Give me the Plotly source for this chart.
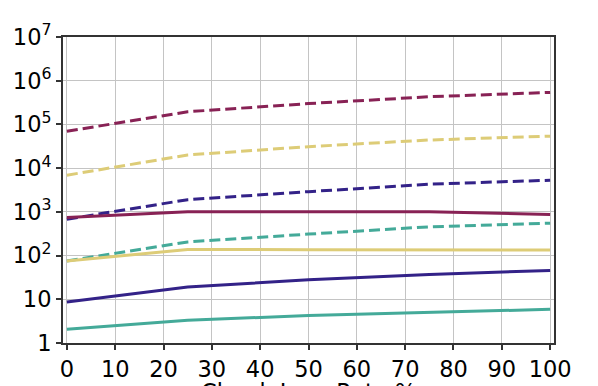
import plotly.graph_objects as go

loss_rate = [0, 25, 50, 75, 100]

# dashed series
crimson_dashed = [70000, 195000, 300000, 430000, 540000]
sand_dashed = [6900, 20000, 31000, 44000, 54000]
indigo_dashed = [680, 1900, 2900, 4300, 5300]
teal_dashed = [75, 205, 310, 455, 550]

# solid series
crimson_solid = [745, 1000, 1000, 1000, 870]
sand_solid = [75, 138, 136, 135, 134]
indigo_solid = [8.7, 19, 28, 37, 45.6]
teal_solid = [2.06, 3.3, 4.25, 5.1, 5.9]

y_tickvals = [1, 10, 100, 1000, 10000, 100000, 1000000, 10000000]
y_ticktext = ["1", "10", "10<sup>2</sup>", "10<sup>3</sup>", "10<sup>4</sup>",
              "10<sup>5</sup>", "10<sup>6</sup>", "10<sup>7</sup>"]
x_tickvals = [0, 10, 20, 30, 40, 50, 60, 70, 80, 90, 100]

CRIMSON = "#882255"
SAND = "#DDCC77"
INDIGO = "#332288"
TEAL = "#44AA99"
DASH = "11px,5px"
LW = 3

series = [
    (crimson_dashed, CRIMSON, DASH),
    (sand_dashed, SAND, DASH),
    (indigo_dashed, INDIGO, DASH),
    (teal_dashed, TEAL, DASH),
    (crimson_solid, CRIMSON, "solid"),
    (sand_solid, SAND, "solid"),
    (indigo_solid, INDIGO, "solid"),
    (teal_solid, TEAL, "solid"),
]

fig = go.Figure()
for vals, color, dash in series:
    fig.add_trace(go.Scatter(x=loss_rate, y=vals, mode="lines",
                             line=dict(color=color, width=LW, dash=dash),
                             showlegend=False))

font = dict(family="DejaVu Sans", size=22.5, color="black")

# page body has an 8px default margin, so the figure is offset by 8px
fig.update_layout(
    width=590, height=378,
    margin=dict(l=55, r=44, t=29, b=43, autoexpand=False),
    paper_bgcolor="white", plot_bgcolor="white",
    font=font,
    showlegend=False,
)
axis_common = dict(
    showgrid=True, gridcolor="#c4c4c4", gridwidth=1.3,
    showline=True, linecolor="#333333", linewidth=2, mirror=True,
    ticks="outside", ticklen=5, tickwidth=1.5, tickcolor="#333333",
    tickfont=font, zeroline=False, automargin=False,
)
fig.update_xaxes(range=[-0.8, 100.8], tickvals=x_tickvals, **axis_common)
fig.update_yaxes(type="log", range=[0, 7], tickvals=y_tickvals,
                 ticktext=y_ticktext, **axis_common)
fig.add_annotation(
    text="Chunk Loss Rate %", xref="paper", yref="paper",
    x=0.5, y=0, xanchor="center", yanchor="top", yshift=-34,
    showarrow=False, font=font,
)

fig.write_html("out.html")
